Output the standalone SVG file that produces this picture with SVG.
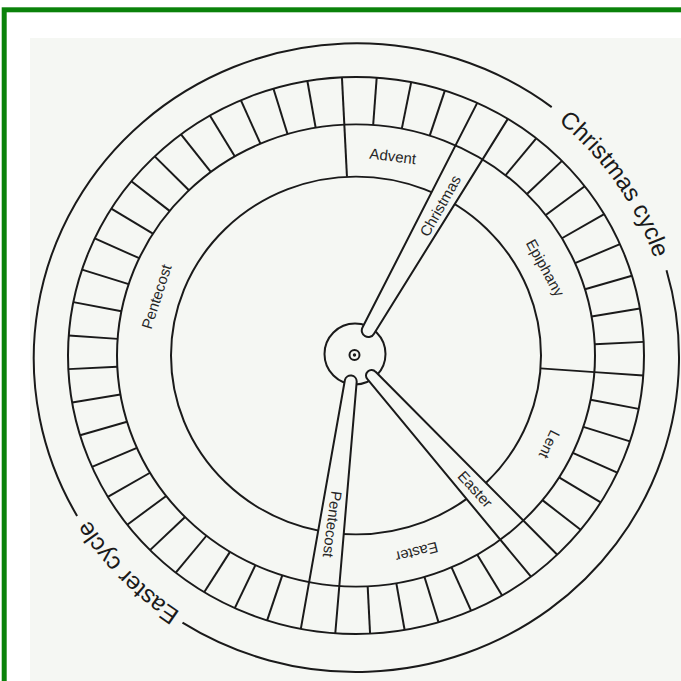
<svg xmlns="http://www.w3.org/2000/svg" width="681" height="681" viewBox="0 0 681 681">
<style>
.ln{fill:none;stroke:#1a1a1a;stroke-width:2}
.sp{fill:#f5f7f3;stroke:#1a1a1a;stroke-width:2;stroke-linejoin:round}
.lb{font-family:"Liberation Sans",Arial,sans-serif;font-size:15px;fill:#262626;text-anchor:middle}
.cy{font-family:"Liberation Sans",Arial,sans-serif;font-size:24px;fill:#1a1a1a;text-anchor:middle}
</style>
<defs>
<line id="tk" x1="0" y1="-239" x2="0" y2="-288"/>
<line id="dv" x1="0" y1="-185" x2="0" y2="-239"/>
<path id="pc" d="M 492.8 80.5 A 315 307 0 0 1 670.1 334.3"/>
<path id="pe" d="M 268.6 652 A 315 307 0 0 1 50.2 430.7"/>
</defs>
<rect width="681" height="681" fill="#ffffff"/>
<rect x="30" y="38" width="651" height="643" fill="#f5f7f3"/>
<rect x="4.2" y="9.8" width="720" height="720" fill="none" stroke="#0a820a" stroke-width="5"/>

<g id="cycle-arcs" class="ln">
<path d="M 666.5 270.2 A 323 315 0 0 1 182.5 622.7"/>
<path d="M 77.1 515.9 A 323 315 0 0 1 551.7 107.1"/>
</g>

<g id="inner-circle" class="ln" transform="translate(356 355.5) scale(1 0.967)">
<circle r="185"/>
<use href="#dv" transform="rotate(-2.8)"/>
<use href="#dv" transform="rotate(94.12)"/>
</g>

<g id="hub">
<circle cx="355" cy="354" r="30.5" class="sp"/>
</g>

<g id="connectors">
<path id="spoke-christmas" class="sp" d="M 477.24 102.89 L 362.6 327.3 A 6.5 6.5 0 0 0 374 333.7 L 507.82 118.85"/>
<path id="spoke-easter" class="sp" d="M 557.28 554.69 L 375.6 371.8 A 5.5 5.5 0 0 0 367.4 379.2 L 530.97 576.71"/>
<path id="spoke-pentecost" class="sp" d="M 335.29 633.29 L 356.7 381.6 A 6 6 0 0 0 344.9 380.0 L 300.82 628.84"/>
</g>

<g id="week-ring" class="ln" transform="translate(356 355.5) scale(1 0.967)">
<circle r="239"/>
<circle r="288"/>
<use href="#tk" transform="rotate(-2.8)"/>
<use href="#tk" transform="rotate(4.12)"/>
<use href="#tk" transform="rotate(11.05)"/>
<use href="#tk" transform="rotate(17.97)"/>
<use href="#tk" transform="rotate(38.74)"/>
<use href="#tk" transform="rotate(45.66)"/>
<use href="#tk" transform="rotate(52.58)"/>
<use href="#tk" transform="rotate(59.51)"/>
<use href="#tk" transform="rotate(66.43)"/>
<use href="#tk" transform="rotate(73.35)"/>
<use href="#tk" transform="rotate(80.28)"/>
<use href="#tk" transform="rotate(87.2)"/>
<use href="#tk" transform="rotate(94.12)"/>
<use href="#tk" transform="rotate(101.05)"/>
<use href="#tk" transform="rotate(107.97)"/>
<use href="#tk" transform="rotate(114.89)"/>
<use href="#tk" transform="rotate(121.82)"/>
<use href="#tk" transform="rotate(128.74)"/>
<use href="#tk" transform="rotate(149.51)"/>
<use href="#tk" transform="rotate(156.43)"/>
<use href="#tk" transform="rotate(163.35)"/>
<use href="#tk" transform="rotate(170.28)"/>
<use href="#tk" transform="rotate(177.2)"/>
<use href="#tk" transform="rotate(197.97)"/>
<use href="#tk" transform="rotate(204.89)"/>
<use href="#tk" transform="rotate(211.82)"/>
<use href="#tk" transform="rotate(218.74)"/>
<use href="#tk" transform="rotate(225.66)"/>
<use href="#tk" transform="rotate(232.58)"/>
<use href="#tk" transform="rotate(239.51)"/>
<use href="#tk" transform="rotate(246.43)"/>
<use href="#tk" transform="rotate(253.35)"/>
<use href="#tk" transform="rotate(260.28)"/>
<use href="#tk" transform="rotate(267.2)"/>
<use href="#tk" transform="rotate(274.12)"/>
<use href="#tk" transform="rotate(281.05)"/>
<use href="#tk" transform="rotate(287.97)"/>
<use href="#tk" transform="rotate(294.89)"/>
<use href="#tk" transform="rotate(301.82)"/>
<use href="#tk" transform="rotate(308.74)"/>
<use href="#tk" transform="rotate(315.66)"/>
<use href="#tk" transform="rotate(322.58)"/>
<use href="#tk" transform="rotate(329.51)"/>
<use href="#tk" transform="rotate(336.43)"/>
<use href="#tk" transform="rotate(343.35)"/>
<use href="#tk" transform="rotate(350.28)"/>
</g>

<g id="pivot">
<circle cx="354.5" cy="355" r="5" class="ln"/>
<circle cx="354.5" cy="355" r="1.7" fill="#1a1a1a"/>
</g>

<g id="label-advent"><text class="lb" transform="translate(392.8 156.5) rotate(7)" dy="5">Advent</text></g>
<g id="label-christmas"><text class="lb" transform="translate(440.5 206) rotate(-60.5)" dy="5">Christmas</text></g>
<g id="label-epiphany"><text class="lb" transform="translate(545 268) rotate(61)" dy="5">Epiphany</text></g>
<g id="label-lent"><text class="lb" transform="translate(549.2 444.2) rotate(116)" dy="5">Lent</text></g>
<g id="label-easter-spoke"><text class="lb" transform="translate(475 489.4) rotate(47.8)" dy="5">Easter</text></g>
<g id="label-easter"><text class="lb" transform="translate(416.7 551.8) rotate(166)" dy="5">Easter</text></g>
<g id="label-pentecost-spoke"><text class="lb" transform="translate(332 524.3) rotate(97.5)" dy="5">Pentecost</text></g>
<g id="label-pentecost"><text class="lb" transform="translate(156.7 296.7) rotate(-72)" dy="5">Pentecost</text></g>

<g id="label-christmas-cycle"><text class="cy"><textPath href="#pc" startOffset="50%">Christmas cycle</textPath></text></g>
<g id="label-easter-cycle"><text class="cy"><textPath href="#pe" startOffset="50%">Easter cycle</textPath></text></g>
</svg>
